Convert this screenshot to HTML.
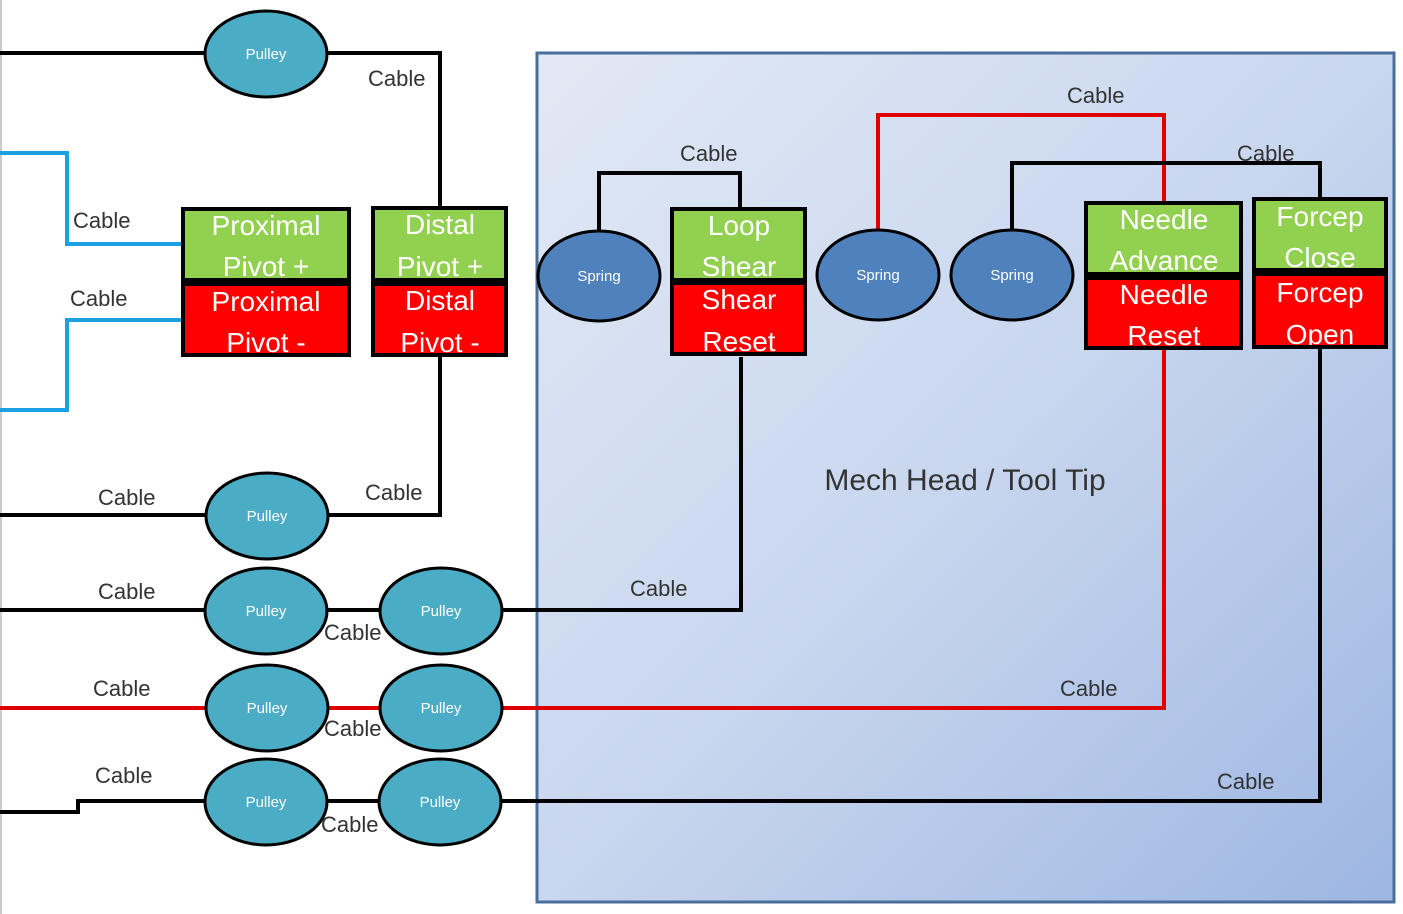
<!DOCTYPE html>
<html><head><meta charset="utf-8"><style>
html,body{margin:0;padding:0;background:#fff;}
svg{display:block;font-family:"Liberation Sans",sans-serif;}
.c{font-size:22px;fill:#333;}
.b{font-size:28px;fill:#fff;text-anchor:middle;}
.p{font-size:15px;fill:#fff;text-anchor:middle;}
</style></head><body>
<svg width="1403" height="914" viewBox="0 0 1403 914" xmlns="http://www.w3.org/2000/svg">
<defs>
<linearGradient id="g" x1="0" y1="0" x2="1" y2="1">
<stop offset="0" stop-color="#e2e9f5"/><stop offset="0.5" stop-color="#c8d6ee"/><stop offset="1" stop-color="#9db6e2"/>
</linearGradient>
<clipPath id="k1"><rect x="185" y="211" width="162" height="67"/></clipPath>
<clipPath id="k2"><rect x="185" y="286" width="162" height="67"/></clipPath>
<clipPath id="k3"><rect x="375" y="210" width="129" height="68"/></clipPath>
<clipPath id="k4"><rect x="375" y="286" width="129" height="67"/></clipPath>
<clipPath id="k5"><rect x="674" y="211" width="129" height="67"/></clipPath>
<clipPath id="k6"><rect x="674" y="285" width="129" height="67"/></clipPath>
<clipPath id="k7"><rect x="1088" y="205" width="151" height="67"/></clipPath>
<clipPath id="k8"><rect x="1088" y="280" width="151" height="66"/></clipPath>
<clipPath id="k9"><rect x="1256" y="201" width="128" height="67"/></clipPath>
<clipPath id="k10"><rect x="1256" y="276" width="128" height="69"/></clipPath>
</defs>
<rect x="0" y="0" width="2" height="914" fill="#ccc"/>
<rect x="537" y="53" width="857" height="849" fill="url(#g)" stroke="#4a6e9c" stroke-width="3"/>
<text x="965" y="490" font-size="30" fill="#333" text-anchor="middle">Mech Head / Tool Tip</text>

<g fill="none" stroke-width="4">
<polyline stroke="#000" points="0,53 440,53 440,207"/>
<polyline stroke="#1ca0e0" points="0,153 67,153 67,244 182,244"/>
<polyline stroke="#1ca0e0" points="182,320 67,320 67,410 0,410"/>
<polyline stroke="#000" points="440,357 440,515 0,515"/>
<polyline stroke="#000" points="0,610 741,610 741,357"/>
<polyline stroke="#e00000" points="0,708 1164,708 1164,350"/>
<polyline stroke="#000" points="0,812 78,812 78,801 1320,801 1320,348"/>
<polyline stroke="#000" points="599,231 599,173 740,173 740,207"/>
<polyline stroke="#e00000" points="878,230 878,115 1164,115 1164,203"/>
<polyline stroke="#000" points="1012,230 1012,163 1320,163 1320,197"/>
</g>

<g stroke="#000" stroke-width="3" fill="#4bacc6">
<ellipse cx="266" cy="54" rx="61" ry="43"/>
<ellipse cx="267" cy="516" rx="61" ry="43"/>
<ellipse cx="266" cy="611" rx="61" ry="43"/>
<ellipse cx="441" cy="611" rx="61" ry="43"/>
<ellipse cx="267" cy="708" rx="61" ry="43"/>
<ellipse cx="441" cy="708" rx="61" ry="43"/>
<ellipse cx="266" cy="802" rx="61" ry="43"/>
<ellipse cx="440" cy="802" rx="61" ry="43"/>
</g>
<g class="p">
<text x="266" y="59" class="p">Pulley</text>
<text x="267" y="521" class="p">Pulley</text>
<text x="266" y="616" class="p">Pulley</text>
<text x="441" y="616" class="p">Pulley</text>
<text x="267" y="713" class="p">Pulley</text>
<text x="441" y="713" class="p">Pulley</text>
<text x="266" y="807" class="p">Pulley</text>
<text x="440" y="807" class="p">Pulley</text>
</g>
<g stroke="#000" stroke-width="3" fill="#4f81bd">
<ellipse cx="599" cy="276" rx="61" ry="45"/>
<ellipse cx="878" cy="275" rx="61" ry="45"/>
<ellipse cx="1012" cy="275" rx="61" ry="45"/>
</g>
<text x="599" y="281" class="p">Spring</text>
<text x="878" y="280" class="p">Spring</text>
<text x="1012" y="280" class="p">Spring</text>

<!-- boxes -->
<rect x="181" y="207" width="170" height="150" fill="#000"/>
<rect x="185" y="211" width="162" height="67" fill="#92d050"/><rect x="185" y="286" width="162" height="67" fill="#f00"/>
<g clip-path="url(#k1)"><text class="b" x="266" y="235">Proximal</text><text class="b" x="266" y="276">Pivot +</text></g>
<g clip-path="url(#k2)"><text class="b" x="266" y="311">Proximal</text><text class="b" x="266" y="352">Pivot -</text></g>

<rect x="371" y="206" width="137" height="151" fill="#000"/>
<rect x="375" y="210" width="129" height="68" fill="#92d050"/><rect x="375" y="286" width="129" height="67" fill="#f00"/>
<g clip-path="url(#k3)"><text class="b" x="440" y="234">Distal</text><text class="b" x="440" y="276">Pivot +</text></g>
<g clip-path="url(#k4)"><text class="b" x="440" y="310">Distal</text><text class="b" x="440" y="352">Pivot -</text></g>

<rect x="670" y="207" width="137" height="149" fill="#000"/>
<rect x="674" y="211" width="129" height="67" fill="#92d050"/><rect x="674" y="285" width="129" height="67" fill="#f00"/>
<g clip-path="url(#k5)"><text class="b" x="739" y="235">Loop</text><text class="b" x="739" y="276">Shear</text></g>
<g clip-path="url(#k6)"><text class="b" x="739" y="309">Shear</text><text class="b" x="739" y="351">Reset</text></g>

<rect x="1084" y="201" width="159" height="149" fill="#000"/>
<rect x="1088" y="205" width="151" height="67" fill="#92d050"/><rect x="1088" y="280" width="151" height="66" fill="#f00"/>
<g clip-path="url(#k7)"><text class="b" x="1164" y="229">Needle</text><text class="b" x="1164" y="270">Advance</text></g>
<g clip-path="url(#k8)"><text class="b" x="1164" y="304">Needle</text><text class="b" x="1164" y="345">Reset</text></g>

<rect x="1252" y="197" width="136" height="152" fill="#000"/>
<rect x="1256" y="201" width="128" height="67" fill="#92d050"/><rect x="1256" y="276" width="128" height="69" fill="#f00"/>
<g clip-path="url(#k9)"><text class="b" x="1320" y="226">Forcep</text><text class="b" x="1320" y="267">Close</text></g>
<g clip-path="url(#k10)"><text class="b" x="1320" y="302">Forcep</text><text class="b" x="1320" y="344">Open</text></g>

<!-- labels -->
<g class="c">
<text x="368" y="86">Cable</text>
<text x="73" y="228">Cable</text>
<text x="70" y="306">Cable</text>
<text x="98" y="505">Cable</text>
<text x="365" y="500">Cable</text>
<text x="98" y="599">Cable</text>
<text x="324" y="640">Cable</text>
<text x="630" y="596">Cable</text>
<text x="93" y="696">Cable</text>
<text x="324" y="736">Cable</text>
<text x="1060" y="696">Cable</text>
<text x="95" y="783">Cable</text>
<text x="321" y="832">Cable</text>
<text x="1217" y="789">Cable</text>
<text x="680" y="161">Cable</text>
<text x="1067" y="103">Cable</text>
<text x="1237" y="161">Cable</text>
</g>
</svg>
</body></html>
